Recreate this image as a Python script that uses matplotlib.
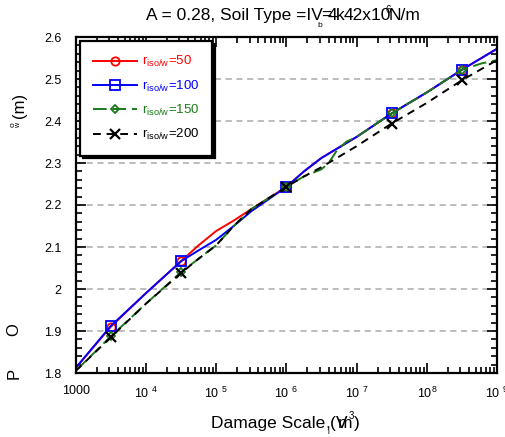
import numpy as np
import matplotlib
matplotlib.use("Agg")
import matplotlib.pyplot as plt
from matplotlib.ticker import FixedLocator, FixedFormatter, LogLocator, MultipleLocator, NullFormatter

plt.rcParams["font.family"] = ["Liberation Sans", "DejaVu Sans"]
plt.rcParams["mathtext.fontset"] = "custom"
plt.rcParams["mathtext.rm"] = "Liberation Sans"
plt.rcParams["mathtext.it"] = "Liberation Sans"

# damage scale (m^3) and the peak values
x_main = [1e3, 3.16e3, 1e4, 3.16e4, 5.62e4, 1e5, 1.78e5, 3.16e5, 1e6,
          1.78e6, 3.16e6, 1e7, 3.16e7, 1e8, 3.16e8, 1e9]
y_r50 = [1.812, 1.910, 1.990, 2.066, 2.104, 2.138, 2.163, 2.190, 2.243,
         2.280, 2.312, 2.362, 2.418, 2.468, 2.522, 2.572]
y_r100 = [1.812, 1.912, 1.990, 2.066, 2.092, 2.117, 2.150, 2.185, 2.243,
          2.280, 2.312, 2.362, 2.418, 2.468, 2.522, 2.572]
x_r150 = [1e3, 3.16e3, 1e4, 3.16e4, 5.62e4, 1e5, 1.78e5, 3.16e5, 1e6,
          1.78e6, 3.16e6, 4e6, 5.25e6, 7.2e6, 1e7, 3.16e7, 1e8, 3.16e8, 6e8, 1e9]
y_r150 = [1.805, 1.887, 1.965, 2.040, 2.072, 2.104, 2.150, 2.190, 2.243,
          2.268, 2.285, 2.300, 2.330, 2.351, 2.362, 2.418, 2.468, 2.522, 2.537, 2.545]
y_r200 = [1.805, 1.885, 1.965, 2.038, 2.072, 2.104, 2.150, 2.190, 2.243,
          2.268, 2.290, 2.340, 2.394, 2.443, 2.497, 2.545]
x_marks = [3.16e3, 3.16e4, 1e6, 3.16e7, 3.16e8]

x_ticks = [1e3, 1e4, 1e5, 1e6, 1e7, 1e8, 1e9]
x_ticklabels = ["1000", "10 $^{4}$", "10 $^{5}$", "10 $^{6}$", "10 $^{7}$", "10$^{8}$", "10 $^{9}$"]
y_grid = [1.9, 2.0, 2.1, 2.2, 2.3, 2.4, 2.5]

W, H = 506, 437
fig = plt.figure(figsize=(W / 100, H / 100), dpi=100)
ax = fig.add_axes([75.7 / W, 1 - 373 / H, (497 - 75.7) / W, (373 - 37) / H])


def marks(xs):
    return [i for i, v in enumerate(xs) if v in x_marks]


ax.plot(x_main, y_r50, color="red", lw=1.4, marker="o", ms=6, mfc="none", mew=1.3,
        markevery=marks(x_main), label=r"r$_{\rm iso/w}$=50")
ax.plot(x_main, y_r100, color="blue", lw=1.4, marker="s", ms=7, mfc="none", mew=1.3,
        markevery=marks(x_main), label=r"r$_{\rm iso/w}$=100")
ax.plot(x_r150, y_r150, color="#1a7a1a", lw=1.4, ls=(0, (7, 3)), marker="D", ms=4,
        mfc="none", mew=1.3, markevery=marks(x_r150), label=r"r$_{\rm iso/w}$=150")
ax.plot(x_main, y_r200, color="black", lw=1.4, ls=(0, (4, 3)), marker="x", ms=7, mew=1.6,
        markevery=marks(x_main), label=r"r$_{\rm iso/w}$=200")

for g in y_grid:
    ax.axhline(g, color="#aaaaaa", lw=1.1, ls=(0, (4, 3)), zorder=0)

ax.set_xscale("log")
ax.set_xlim(1e3, 1e9)
ax.set_ylim(1.8, 2.6)
ax.xaxis.set_major_locator(FixedLocator(x_ticks))
ax.xaxis.set_major_formatter(FixedFormatter(x_ticklabels))
ax.xaxis.set_minor_locator(LogLocator(base=10, subs=np.arange(2, 10)))
ax.xaxis.set_minor_formatter(NullFormatter())
ax.yaxis.set_major_locator(MultipleLocator(0.1))
ax.yaxis.set_minor_locator(MultipleLocator(0.02))
ax.yaxis.set_major_formatter(matplotlib.ticker.FormatStrFormatter("%g"))
ax.tick_params(which="both", direction="in", top=True, right=True, width=1.2, labelsize=9)
ax.tick_params(which="major", length=7)
ax.tick_params(which="minor", length=4)
ax.tick_params(axis="x", pad=9)
ax.tick_params(axis="y", pad=10)
for s in ax.spines.values():
    s.set_linewidth(1.6)

leg = ax.legend(loc="upper left", bbox_to_anchor=(0.01, 0.988), fontsize=9.5,
                handlelength=3.3, labelspacing=0.7, borderpad=1.0, handletextpad=0.4,
                fancybox=False, shadow={"color": "black", "alpha": 1}, labelcolor="linecolor",
                borderaxespad=0)
leg.get_frame().set_edgecolor("black")
leg.get_frame().set_linewidth(1.6)

renderer = fig.canvas.get_renderer()


def run(px, py, pieces, size=12.5):
    """Draw text pieces one after another; each piece is (text, dx, dy, size or None):
    dx is measured from the end of the previous piece, dy from the baseline (down +)."""
    x = px
    for s, dx, dy, sz in pieces:
        t = fig.text((x + dx) / W, 1 - (py + dy) / H, s, fontsize=sz or size,
                     ha="left", va="baseline")
        x = x + dx + t.get_window_extent(renderer).width


# title pieces (overlapping as in the source)
run(146, 20, [("A = 0.28, Soil Type =IV", 0, 0, None),
              ("b", -5, 7, 6), ("=", -1, 0, None), ("4", -4, 0, None),
              ("k", -2, 0, None), ("42x10", -1, 0, None), ("6", -5, -7, 7),
              ("N/m", -3, 0, None)])

# x label pieces
run(211, 428, [("Damage Scale", 0, 0, None), (",", 0, 0, None), ("i", -2, 6, 6),
               ("(", 0, 0, None), ("V", 0, 0, None), ("m", -10, 0, None),
               ("3", -3, -9, 7), (")", 0, 0, None)])


# y label pieces (rotated)
def ytext(px, py, s, size=12):
    fig.text(px / W, 1 - py / H, s, fontsize=size, ha="center", va="center", rotation=90)


ytext(20, 105, "(m)")
ytext(13, 125, "o", size=6)
ytext(19, 126, "w", size=5)
ytext(14, 330, "O")
ytext(14, 373, "P")

fig.savefig("out.png", dpi=100)
